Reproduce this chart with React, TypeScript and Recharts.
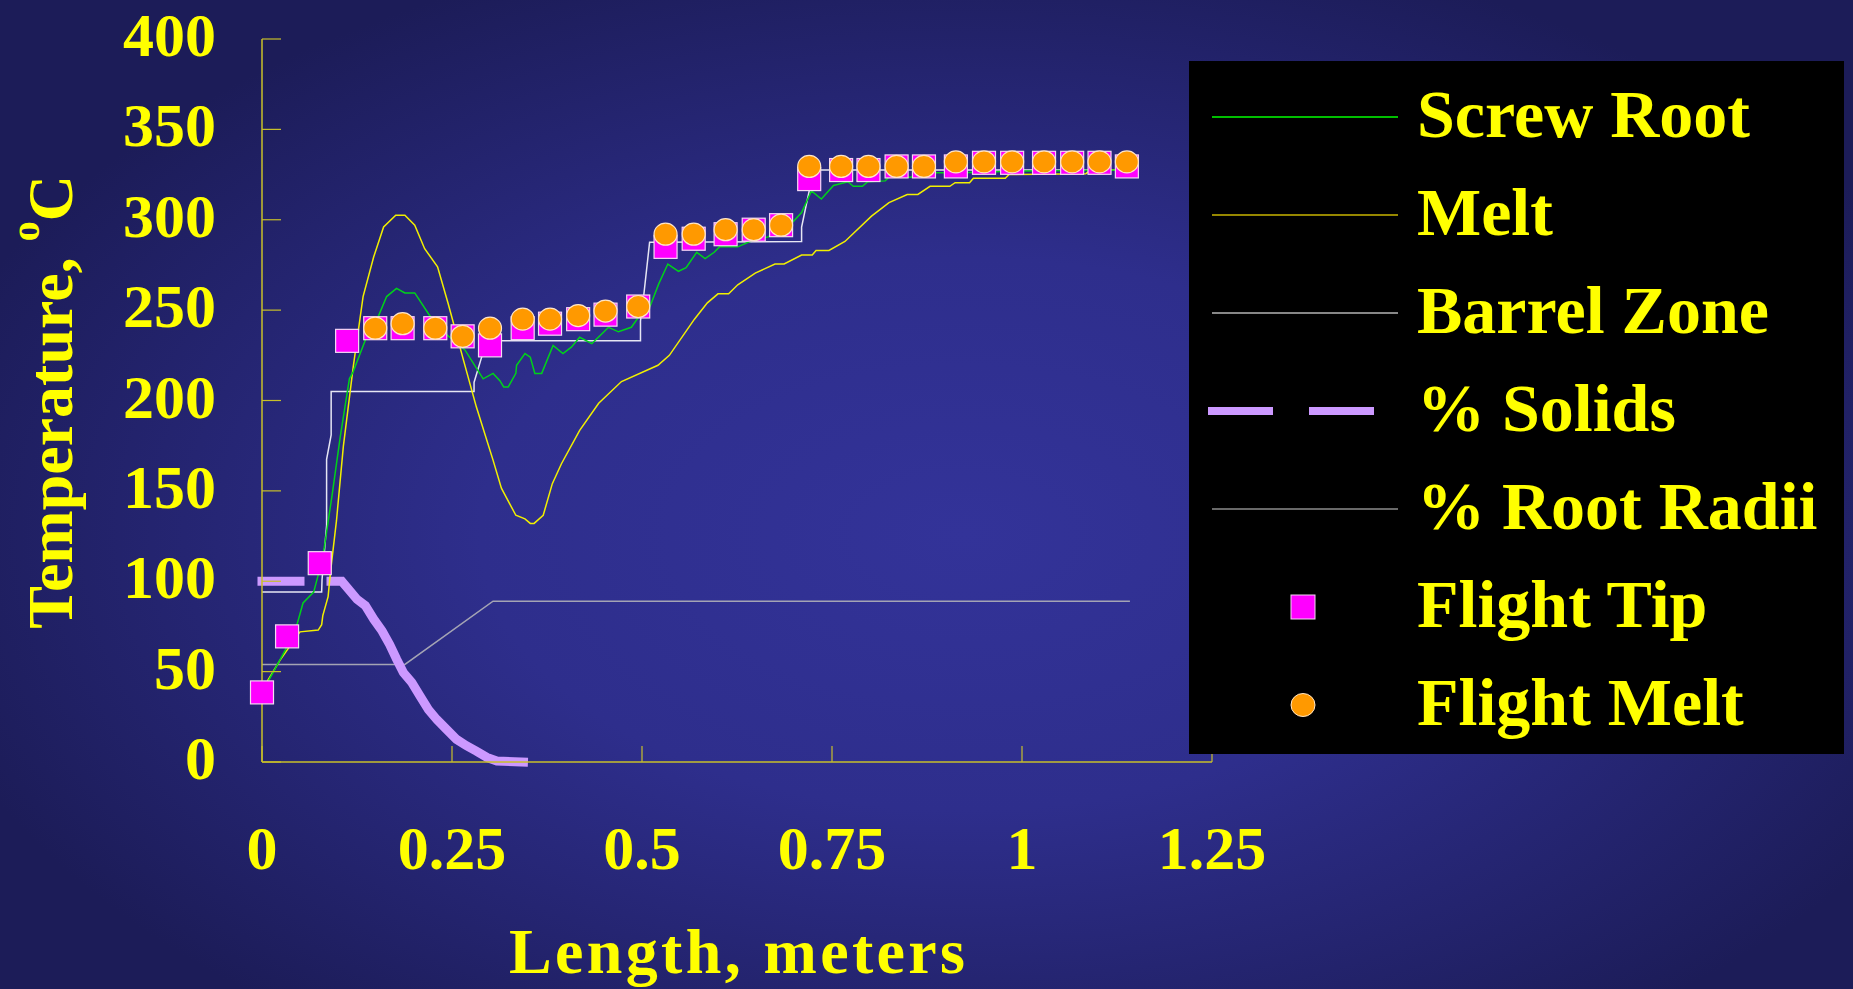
import React from 'react';
import { ComposedChart, Line, Scatter, XAxis, YAxis, Legend } from 'recharts';

const xTicks = [0, 0.25, 0.5, 0.75, 1, 1.25];
const yTicks = [0, 50, 100, 150, 200, 250, 300, 350, 400];

const screwRoot = [
  { x: 0, y: 38 }, { x: 0.008, y: 44.5 }, { x: 0.032, y: 63 }, { x: 0.046, y: 76 },
  { x: 0.054, y: 88 }, { x: 0.068, y: 94 }, { x: 0.074, y: 103.5 }, { x: 0.081, y: 116 },
  { x: 0.092, y: 147 }, { x: 0.103, y: 180 }, { x: 0.115, y: 212 }, { x: 0.12, y: 216 },
  { x: 0.136, y: 233.5 }, { x: 0.151, y: 244.5 }, { x: 0.164, y: 257.5 }, { x: 0.177, y: 262 },
  { x: 0.188, y: 259.5 }, { x: 0.201, y: 259.5 }, { x: 0.219, y: 248 }, { x: 0.232, y: 240.5 },
  { x: 0.247, y: 235 }, { x: 0.267, y: 228 }, { x: 0.291, y: 212 }, { x: 0.304, y: 215 },
  { x: 0.313, y: 211 }, { x: 0.318, y: 207.5 }, { x: 0.324, y: 207.5 }, { x: 0.334, y: 215 },
  { x: 0.335, y: 219.5 }, { x: 0.346, y: 226 }, { x: 0.353, y: 224 }, { x: 0.359, y: 215 },
  { x: 0.368, y: 215 }, { x: 0.383, y: 230.5 }, { x: 0.396, y: 226 }, { x: 0.407, y: 229.5 },
  { x: 0.418, y: 235 }, { x: 0.434, y: 231.5 }, { x: 0.456, y: 240.5 }, { x: 0.469, y: 238 },
  { x: 0.486, y: 240.5 }, { x: 0.502, y: 250 }, { x: 0.511, y: 252.5 }, { x: 0.522, y: 264.5 },
  { x: 0.534, y: 275.5 }, { x: 0.548, y: 271.5 }, { x: 0.558, y: 273.5 }, { x: 0.572, y: 282 },
  { x: 0.583, y: 278.5 }, { x: 0.595, y: 282 }, { x: 0.602, y: 285 }, { x: 0.626, y: 285 },
  { x: 0.642, y: 288 }, { x: 0.666, y: 290.5 }, { x: 0.68, y: 295 }, { x: 0.699, y: 299 },
  { x: 0.71, y: 304 }, { x: 0.723, y: 316 }, { x: 0.736, y: 311.5 }, { x: 0.752, y: 319 },
  { x: 0.771, y: 321 }, { x: 0.778, y: 318.5 }, { x: 0.79, y: 318.5 }, { x: 0.797, y: 321 },
  { x: 0.82, y: 321.5 }, { x: 0.825, y: 323.5 }, { x: 0.853, y: 323.5 }, { x: 0.886, y: 326 },
  { x: 0.92, y: 326 }, { x: 1.0, y: 327 }, { x: 1.138, y: 327.5 },
];

const melt = [
  { x: 0, y: 38 }, { x: 0.008, y: 45.5 }, { x: 0.024, y: 56.5 }, { x: 0.05, y: 72 },
  { x: 0.074, y: 73 }, { x: 0.0785, y: 76 }, { x: 0.08, y: 81 }, { x: 0.087, y: 91.5 },
  { x: 0.089, y: 100.5 }, { x: 0.092, y: 112 }, { x: 0.098, y: 133.5 }, { x: 0.107, y: 174.5 },
  { x: 0.12, y: 218.5 }, { x: 0.133, y: 257.5 }, { x: 0.147, y: 279.5 }, { x: 0.16, y: 296 },
  { x: 0.176, y: 302.5 }, { x: 0.188, y: 302.5 }, { x: 0.201, y: 297 }, { x: 0.214, y: 284 },
  { x: 0.231, y: 274 }, { x: 0.245, y: 253.5 }, { x: 0.265, y: 222.5 }, { x: 0.282, y: 196.5 },
  { x: 0.304, y: 167 }, { x: 0.315, y: 151.5 }, { x: 0.334, y: 136.5 }, { x: 0.346, y: 134.5 },
  { x: 0.353, y: 132 }, { x: 0.358, y: 132 }, { x: 0.37, y: 136.5 }, { x: 0.382, y: 154 },
  { x: 0.394, y: 165 }, { x: 0.418, y: 183.5 }, { x: 0.443, y: 198.5 }, { x: 0.473, y: 210.5 },
  { x: 0.521, y: 219.5 }, { x: 0.536, y: 225 }, { x: 0.569, y: 245 }, { x: 0.586, y: 254 },
  { x: 0.6, y: 259 }, { x: 0.614, y: 259 }, { x: 0.626, y: 264 }, { x: 0.649, y: 270.5 },
  { x: 0.675, y: 275.5 }, { x: 0.687, y: 275.5 }, { x: 0.71, y: 280.5 }, { x: 0.724, y: 280.5 },
  { x: 0.729, y: 283 }, { x: 0.746, y: 283 }, { x: 0.767, y: 288 }, { x: 0.802, y: 302 },
  { x: 0.825, y: 309.5 }, { x: 0.849, y: 314 }, { x: 0.863, y: 314 }, { x: 0.879, y: 318.5 },
  { x: 0.905, y: 318.5 }, { x: 0.912, y: 320.5 }, { x: 0.931, y: 320.5 }, { x: 0.936, y: 323 },
  { x: 0.978, y: 323 }, { x: 0.983, y: 325 }, { x: 1.084, y: 325.5 }, { x: 1.09, y: 327.5 },
  { x: 1.138, y: 327.5 },
];

const barrelZone = [
  { x: 0, y: 94 }, { x: 0.0785, y: 94 }, { x: 0.079, y: 101 }, { x: 0.085, y: 131 },
  { x: 0.085, y: 167.5 }, { x: 0.091, y: 181 }, { x: 0.091, y: 205 }, { x: 0.279, y: 205 },
  { x: 0.279, y: 210 }, { x: 0.289, y: 224 }, { x: 0.292, y: 233 }, { x: 0.498, y: 233 },
  { x: 0.498, y: 244 }, { x: 0.502, y: 257 }, { x: 0.51, y: 287.5 }, { x: 0.71, y: 288 },
  { x: 0.71, y: 296 }, { x: 0.72, y: 316 }, { x: 0.722, y: 327.5 }, { x: 1.138, y: 327.5 },
];

const solids = [
  { x: 0, y: 100 }, { x: 0.09, y: 100 }, { x: 0.105, y: 100 }, { x: 0.114, y: 95.5 },
  { x: 0.125, y: 90 }, { x: 0.136, y: 86.5 }, { x: 0.147, y: 79 }, { x: 0.158, y: 72.5 },
  { x: 0.168, y: 65 }, { x: 0.177, y: 57 }, { x: 0.186, y: 49.5 }, { x: 0.197, y: 44 },
  { x: 0.208, y: 36.5 }, { x: 0.219, y: 29 }, { x: 0.23, y: 23.5 }, { x: 0.243, y: 18 },
  { x: 0.256, y: 12.5 }, { x: 0.269, y: 9 }, { x: 0.282, y: 6 }, { x: 0.296, y: 2.5 },
  { x: 0.309, y: 0.5 }, { x: 0.344, y: 0 },
];

const rootRadii = [
  { x: 0, y: 54 }, { x: 0.188, y: 54 }, { x: 0.304, y: 89 }, { x: 1.142, y: 89 },
];

const flightTip = [
  { x: 0, y: 38.5 }, { x: 0.033, y: 69.5 }, { x: 0.076, y: 110 }, { x: 0.112, y: 233 },
  { x: 0.149, y: 240 }, { x: 0.185, y: 240 }, { x: 0.228, y: 240 }, { x: 0.264, y: 235.5 },
  { x: 0.3, y: 230.5 }, { x: 0.343, y: 240 }, { x: 0.379, y: 242.5 }, { x: 0.416, y: 245 },
  { x: 0.452, y: 247.5 }, { x: 0.495, y: 252 }, { x: 0.531, y: 285 }, { x: 0.568, y: 289.5 },
  { x: 0.61, y: 292 }, { x: 0.647, y: 294.5 }, { x: 0.683, y: 297 }, { x: 0.72, y: 322.5 },
  { x: 0.762, y: 327.5 }, { x: 0.798, y: 327.5 }, { x: 0.835, y: 329.5 }, { x: 0.871, y: 329.5 },
  { x: 0.913, y: 329.5 }, { x: 0.95, y: 331.5 }, { x: 0.987, y: 331.5 }, { x: 1.029, y: 331.5 },
  { x: 1.066, y: 331.5 }, { x: 1.102, y: 331.5 }, { x: 1.138, y: 329.5 },
];

const flightMelt = [
  { x: 0.149, y: 240 }, { x: 0.185, y: 242.5 }, { x: 0.228, y: 240 }, { x: 0.264, y: 235.5 },
  { x: 0.3, y: 240 }, { x: 0.343, y: 245 }, { x: 0.379, y: 245 }, { x: 0.416, y: 247 },
  { x: 0.452, y: 249.5 }, { x: 0.495, y: 252 }, { x: 0.531, y: 292 }, { x: 0.568, y: 292 },
  { x: 0.61, y: 294.5 }, { x: 0.647, y: 294.5 }, { x: 0.683, y: 297 }, { x: 0.72, y: 329.5 },
  { x: 0.762, y: 329.5 }, { x: 0.798, y: 329.5 }, { x: 0.835, y: 329.5 }, { x: 0.871, y: 329.5 },
  { x: 0.913, y: 332 }, { x: 0.95, y: 332 }, { x: 0.987, y: 332 }, { x: 1.029, y: 332 },
  { x: 1.066, y: 332 }, { x: 1.102, y: 332 }, { x: 1.138, y: 332 },
];

const FONT = '"Liberation Serif", "Times New Roman", serif';
const YELLOW = '#ffff00';
const AXIS = '#c8c02a';
const GREEN = '#00d21a';
const MELT = '#f2f000';
const BARREL = '#e6e6f4';
const RADII = '#a4a4b4';
const SOLIDS = '#cc99ff';
const TIP = '#ff00ff';
const ORANGE = '#ff9900';

const legendItems = [
  { name: 'Screw Root', kind: 'line', color: '#00ff00' },
  { name: 'Melt', kind: 'line', color: '#c8b400' },
  { name: 'Barrel Zone', kind: 'line', color: '#b4b4b4' },
  { name: '% Solids', kind: 'dash', color: SOLIDS },
  { name: '% Root Radii', kind: 'line', color: '#8c8c8c' },
  { name: 'Flight Tip', kind: 'square', color: TIP },
  { name: 'Flight Melt', kind: 'circle', color: ORANGE },
];

function YTick({ x, y, payload }: any) {
  return (
    <text x={x} y={y + 17} textAnchor="end" fill={YELLOW} fontFamily={FONT} fontWeight="bold" fontSize={62}>
      {payload.value}
    </text>
  );
}

function XTick({ x, y, payload }: any) {
  return (
    <text x={x} y={y} textAnchor="middle" fill={YELLOW} fontFamily={FONT} fontWeight="bold" fontSize={62}>
      {payload.value}
    </text>
  );
}

const TipSquare = (p: any) => (
  <rect x={p.cx - 11.5} y={p.cy - 11.5} width={23} height={23} fill={TIP} stroke="#f4d8f4" strokeWidth={1.2} />
);

const MeltDot = (p: any) => (
  <ellipse cx={p.cx} cy={p.cy} rx={11.5} ry={11} fill={ORANGE} stroke="#ffe6c8" strokeWidth={1.2} />
);

function ChartLegend() {
  return (
    <svg width={655} height={693} style={{ display: 'block' }}>
      <rect width={655} height={693} fill="#000" />
      {legendItems.map((it, i) => {
        const cy = 56 + i * 98;
        let mark = null;
        if (it.kind === 'line') {
          mark = <line x1={23} x2={209} y1={cy} y2={cy} stroke={it.color} strokeWidth={1.3} />;
        } else if (it.kind === 'dash') {
          mark = (
            <g stroke={it.color} strokeWidth={8}>
              <line x1={19} x2={84} y1={cy} y2={cy} />
              <line x1={120} x2={185} y1={cy} y2={cy} />
            </g>
          );
        } else if (it.kind === 'square') {
          mark = <rect x={102} y={cy - 12} width={24} height={24} fill={it.color} stroke="#f4d8f4" strokeWidth={1} />;
        } else {
          mark = <ellipse cx={114} cy={cy} rx={12} ry={11.5} fill={it.color} stroke="#ffe6c8" strokeWidth={1} />;
        }
        return (
          <g key={it.name}>
            {mark}
            <text x={228} y={cy + 20} fill={YELLOW} fontFamily={FONT} fontWeight="bold" fontSize={68}>
              {it.name}
            </text>
          </g>
        );
      })}
    </svg>
  );
}

export default function App() {
  return (
    <div
      style={{
        position: 'absolute',
        left: 0,
        top: 0,
        width: 1853,
        height: 989,
        overflow: 'hidden',
        background:
          'radial-gradient(ellipse 58% 62% at 52% 54%, #333399 0%, #2e2e8c 45%, #1c1c58 100%)',
      }}
    >
      <ComposedChart
        width={1853}
        height={989}
        margin={{ top: 39, right: 641, bottom: 197, left: 202 }}
      >
        <XAxis
          type="number"
          dataKey="x"
          domain={[0, 1.25]}
          ticks={xTicks}
          interval={0}
          height={30}
          tickSize={-16}
          tickMargin={123}
          axisLine={{ stroke: AXIS, strokeWidth: 1.5 }}
          tickLine={{ stroke: AXIS, strokeWidth: 1.2 }}
          tick={<XTick />}
        />
        <YAxis
          type="number"
          domain={[0, 400]}
          ticks={yTicks}
          interval={0}
          width={60}
          tickSize={-19}
          tickMargin={65}
          axisLine={{ stroke: AXIS, strokeWidth: 1.5 }}
          tickLine={{ stroke: AXIS, strokeWidth: 1.2 }}
          tick={<YTick />}
        />
        <Line data={rootRadii} dataKey="y" name="% Root Radii" stroke={RADII} strokeWidth={1.5} dot={false} activeDot={false} isAnimationActive={false} />
        <Line data={solids} dataKey="y" name="% Solids" stroke={SOLIDS} strokeWidth={9} strokeDasharray="38 31 3000" strokeLinecap="square" dot={false} activeDot={false} isAnimationActive={false} />
        <Line data={barrelZone} dataKey="y" name="Barrel Zone" stroke={BARREL} strokeWidth={1.5} dot={false} activeDot={false} isAnimationActive={false} />
        <Line data={melt} dataKey="y" name="Melt" stroke={MELT} strokeWidth={1.5} dot={false} activeDot={false} isAnimationActive={false} />
        <Line data={screwRoot} dataKey="y" name="Screw Root" stroke={GREEN} strokeWidth={1.5} dot={false} activeDot={false} isAnimationActive={false} />
        <Scatter data={flightTip} dataKey="y" name="Flight Tip" shape={TipSquare} isAnimationActive={false} />
        <Scatter data={flightMelt} dataKey="y" name="Flight Melt" shape={MeltDot} isAnimationActive={false} />
        <Legend
          layout="horizontal"
          verticalAlign="middle"
          align="center"
          wrapperStyle={{ left: 1189, top: 61, width: 655, height: 693 }}
          content={() => <ChartLegend />}
        />
      </ComposedChart>
      <svg
        width={1853}
        height={989}
        style={{ position: 'absolute', left: 0, top: 0, pointerEvents: 'none' }}
      >
        <text
          transform="translate(72,402) rotate(-90)"
          textAnchor="middle"
          fill={YELLOW}
          fontFamily={FONT}
          fontWeight="bold"
          fontSize={64}
        >
          {'Temperature, '}
          <tspan fontSize={40} dy={-33}>o</tspan>
          <tspan dy={33}>C</tspan>
        </text>
        <text
          x={737}
          y={973}
          textAnchor="middle"
          fill={YELLOW}
          fontFamily={FONT}
          fontWeight="bold"
          fontSize={64}
          textLength={456}
          lengthAdjust="spacing"
        >
          Length, meters
        </text>
      </svg>
    </div>
  );
}
